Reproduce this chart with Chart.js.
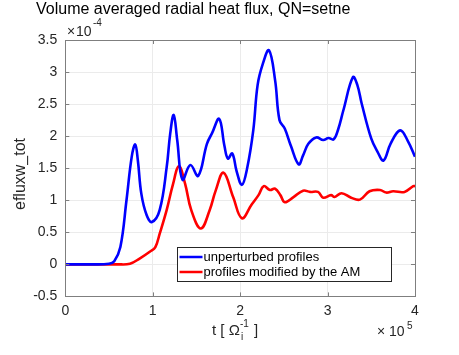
<!DOCTYPE html>
<html>
<head>
<meta charset="utf-8">
<script src="https://cdn.jsdelivr.net/npm/chart.js@4/dist/chart.umd.min.js"></script>
<style>
  html, body { margin: 0; padding: 0; background: #fff; }
  canvas { display: block; }
</style>
</head>
<body>
<canvas id="myChart" width="459" height="355"></canvas>
<script>
// time in units of 1e5, flux in units of 1e-4
var blueT = [0, 0.3, 0.5, 0.56, 0.63, 0.70, 0.76, 0.80, 0.83, 0.87, 0.93, 0.99, 1.08, 1.16, 1.20, 1.24, 1.28, 1.34, 1.43, 1.52, 1.62, 1.68, 1.76, 1.82, 1.86, 1.91, 1.96, 2.02, 2.08, 2.15, 2.20, 2.26, 2.33, 2.40, 2.45, 2.51, 2.58, 2.67, 2.72, 2.78, 2.87, 2.95, 3.01, 3.07, 3.12, 3.18, 3.29, 3.34, 3.39, 3.50, 3.57, 3.64, 3.72, 3.83, 3.92, 4.0];
var blueV = [0, 0, 0.01, 0.05, 0.27, 1.0, 1.68, 1.87, 1.62, 1.10, 0.77, 0.66, 0.85, 1.52, 2.04, 2.33, 1.94, 1.32, 1.55, 1.38, 1.88, 2.05, 2.27, 1.85, 1.65, 1.73, 1.45, 1.24, 1.50, 2.09, 2.80, 3.13, 3.34, 2.87, 2.25, 2.12, 1.85, 1.56, 1.70, 1.88, 1.98, 1.94, 1.97, 1.95, 2.10, 2.40, 2.92, 2.80, 2.51, 1.96, 1.76, 1.62, 1.88, 2.09, 1.92, 1.68];

var redT = [0, 0.6, 0.74, 0.85, 0.97, 1.03, 1.08, 1.16, 1.23, 1.30, 1.37, 1.44, 1.55, 1.65, 1.72, 1.81, 1.92, 2.02, 2.13, 2.21, 2.27, 2.34, 2.40, 2.46, 2.51, 2.61, 2.72, 2.80, 2.89, 2.95, 3.04, 3.08, 3.16, 3.27, 3.37, 3.48, 3.60, 3.67, 3.75, 3.88, 3.98, 4.0];
var redV = [0, 0, 0.01, 0.09, 0.20, 0.27, 0.48, 0.85, 1.24, 1.53, 1.26, 0.85, 0.56, 0.84, 1.15, 1.43, 1.05, 0.72, 0.93, 1.08, 1.22, 1.16, 1.18, 1.08, 0.97, 1.05, 1.15, 1.13, 1.13, 1.04, 1.08, 1.05, 1.11, 1.04, 1.01, 1.14, 1.16, 1.12, 1.14, 1.13, 1.22, 1.22];

var seriesNames = ["unperturbed profiles", "profiles modified by the AM"];
var xTicks = [0, 1, 2, 3, 4];
var yTicks = [-0.5, 0, 0.5, 1, 1.5, 2, 2.5, 3, 3.5];

function pts(t, v) {
  var out = [];
  for (var i = 0; i < t.length; i++) out.push({x: t[i], y: v[i]});
  return out;
}

var FONT = "'Liberation Sans', Arial, sans-serif";
var TXT = "#262626";

var extras = {
  id: 'extras',
  afterDraw: function(chart) {
    var c = chart.ctx, a = chart.chartArea;
    c.save();
    // box
    c.strokeStyle = "#7f7f7f";
    c.lineWidth = 1;
    c.strokeRect(Math.round(a.left) + 0.5, Math.round(a.top) + 0.5, Math.round(a.right - a.left), Math.round(a.bottom - a.top));
    // inward ticks
    var xs = chart.scales.x, ys = chart.scales.y;
    c.beginPath();
    xTicks.forEach(function(t) {
      var px = Math.round(xs.getPixelForValue(t)) + 0.5;
      c.moveTo(px, a.bottom); c.lineTo(px, a.bottom - 4);
      c.moveTo(px, a.top); c.lineTo(px, a.top + 4);
    });
    yTicks.forEach(function(t) {
      var py = Math.round(ys.getPixelForValue(t)) + 0.5;
      c.moveTo(a.left, py); c.lineTo(a.left + 4, py);
      c.moveTo(a.right, py); c.lineTo(a.right - 4, py);
    });
    c.stroke();

    c.fillStyle = "#000";
    // title
    c.font = "16px " + FONT;
    c.textAlign = "left"; c.textBaseline = "middle";
    c.fillText("Volume averaged radial heat flux, QN=setne", 36, 10);

    c.fillStyle = TXT;
    // exponent labels
    c.font = "14px " + FONT;
    c.fillText("\u00d7", 67, 32.5);
    c.fillText("10", 76, 32.5);
    c.font = "10px " + FONT;
    c.fillText("-4", 93, 23);
    c.font = "14px " + FONT;
    c.fillText("\u00d7", 377, 332);
    c.fillText("10", 389, 332);
    c.font = "10px " + FONT;
    c.fillText("5", 407, 326);

    // x label  t [ Ω_i^-1 ]
    c.font = "15px " + FONT;
    c.fillText("t [ \u03a9", 212, 331);
    var w = c.measureText("t [ \u03a9").width;
    c.font = "10px " + FONT;
    c.fillText("-1", 212 + w, 324);
    c.fillText("i", 212 + w + 1, 337);
    var w2 = c.measureText("-1").width;
    c.font = "15px " + FONT;
    c.fillText(" ]", 212 + w + w2 + 1, 331);

    // y label
    c.save();
    c.translate(21, 174);
    c.rotate(-Math.PI / 2);
    c.textAlign = "center";
    c.font = "16px " + FONT;
    c.fillText("efluxw_tot", 0, 0);
    c.restore();

    // legend
    var lx = 177.5, ly = 247.5, lw = 214, lh = 34;
    c.fillStyle = "#fff";
    c.fillRect(lx, ly, lw, lh);
    c.strokeStyle = "#262626";
    c.lineWidth = 1;
    c.strokeRect(lx, ly, lw, lh);
    chart.data.datasets.forEach(function(ds, i) {
      var yy = ly + 9.5 + i * 15;
      c.strokeStyle = ds.borderColor;
      c.lineWidth = 2.5;
      c.beginPath(); c.moveTo(lx + 2, yy); c.lineTo(lx + 25, yy); c.stroke();
      c.fillStyle = "#000";
      c.font = "13px " + FONT;
      c.textAlign = "left"; c.textBaseline = "middle";
      c.fillText(ds.label, lx + 26, yy);
    });
    c.restore();
  }
};

var ctx = document.getElementById("myChart");
var myChart = new Chart(ctx, {
  type: 'line',
  data: {
    datasets: [{
      label: seriesNames[0],
      data: pts(blueT, blueV),
      borderColor: "#0000ff",
      borderWidth: 2.6,
      pointRadius: 0,
      tension: 0.4
    }, {
      label: seriesNames[1],
      data: pts(redT, redV),
      borderColor: "#ff0000",
      borderWidth: 2.6,
      pointRadius: 0,
      tension: 0.4
    }]
  },
  options: {
    responsive: false,
    animation: false,
    layout: { padding: { left: 0, right: 44, top: 40, bottom: 0 } },
    plugins: {
      legend: { display: false },
      tooltip: { enabled: false }
    },
    scales: {
      x: {
        type: 'linear',
        min: 0, max: 4,
        afterBuildTicks: function(s) { s.ticks = xTicks.map(function(v) { return {value: v}; }); },
        afterFit: function(s) { s.height = 58.6; },
        grid: { color: "#ebebeb", drawTicks: false },
        border: { display: false },
        ticks: { color: TXT, font: { family: FONT, size: 14 }, padding: 6, maxRotation: 0,
          callback: function(v) { return String(v); } }
      },
      y: {
        min: -0.5, max: 3.5,
        afterBuildTicks: function(s) { s.ticks = yTicks.map(function(v) { return {value: v}; }); },
        afterFit: function(s) { s.width = 65.3; },
        grid: { color: "#ebebeb", drawTicks: false },
        border: { display: false },
        ticks: { color: TXT, font: { family: FONT, size: 14 }, padding: 8,
          callback: function(v) { return String(v); } }
      }
    }
  },
  plugins: [extras]
});
</script>
</body>
</html>
